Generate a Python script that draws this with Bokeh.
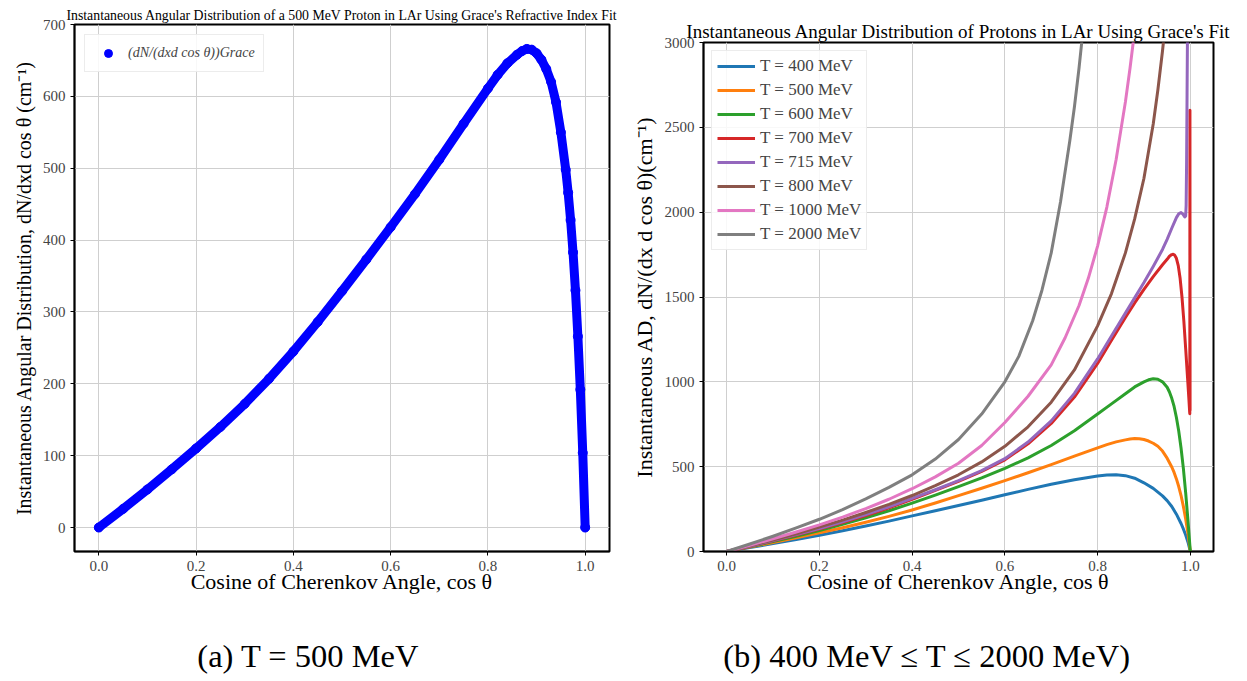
from bokeh.plotting import figure
from bokeh.models import Legend, LegendItem, FixedTicker, NumeralTickFormatter, Range1d, Label
from bokeh.layouts import row, column
from bokeh.embed import file_html
from bokeh.resources import INLINE

# ---------------- data ----------------
x_500 = [0, 0.05, 0.1, 0.15, 0.2, 0.25, 0.3, 0.35, 0.4, 0.45, 0.5, 0.55, 0.6, 0.65, 0.7,
         0.75, 0.8, 0.82, 0.84, 0.86, 0.87, 0.88, 0.89, 0.9, 0.91, 0.92, 0.93, 0.94,
         0.95, 0.96, 0.965, 0.97, 0.975, 0.98, 0.985, 0.99, 0.995, 1.0]
y_500 = [0, 26, 53, 81, 110, 140, 172, 207, 245, 286, 329, 373, 418, 464, 512,
         562, 611, 630, 646, 658, 663, 666, 665, 660, 651, 638, 620, 592,
         550, 498, 466, 428, 383, 330, 266, 192, 104, 0]

x_400 = [0, 0.05, 0.1, 0.15, 0.2, 0.25, 0.3, 0.35, 0.4, 0.45, 0.5, 0.55, 0.6, 0.65, 0.7,
         0.75, 0.8, 0.82, 0.84, 0.86, 0.88, 0.9, 0.92, 0.94, 0.95, 0.96, 0.97, 0.98,
         0.985, 0.99, 0.995, 1.0]
y_400 = [0, 23, 47, 71, 96, 122, 150, 179, 210, 240, 271, 302, 334, 366, 396,
         423, 445, 451, 452, 447, 432, 405, 372, 328, 300, 265, 220, 165,
         133, 97, 55, 0]

x_600 = [0, 0.05, 0.1, 0.15, 0.2, 0.25, 0.3, 0.35, 0.4, 0.45, 0.5, 0.55, 0.6, 0.65, 0.7,
         0.75, 0.8, 0.83, 0.86, 0.88, 0.9, 0.91, 0.92, 0.93, 0.94, 0.95, 0.955, 0.96,
         0.965, 0.97, 0.975, 0.98, 0.985, 0.99, 0.995, 1.0]
y_600 = [0, 28, 58, 90, 124, 160, 199, 240, 285, 332, 382, 434, 490, 552, 625,
         712, 810, 870, 930, 970, 1000, 1012, 1018, 1015, 1000, 968, 940, 903,
         855, 790, 710, 610, 490, 345, 180, 0]

x_700 = [0, 0.05, 0.1, 0.15, 0.2, 0.25, 0.3, 0.35, 0.4, 0.45, 0.5, 0.55, 0.6, 0.65, 0.7,
         0.75, 0.8, 0.83, 0.86, 0.88, 0.9, 0.92, 0.94, 0.95, 0.955, 0.96, 0.963, 0.966,
         0.97, 0.974, 0.978, 0.982, 0.986, 0.99, 0.994, 0.997, 0.9985, 0.9989, 0.9992,
         0.9995]
y_700 = [0, 30, 63, 97, 132, 170, 212, 258, 308, 360, 414, 472, 540, 635, 755,
         910, 1108, 1245, 1380, 1465, 1545, 1620, 1690, 1722, 1740, 1750, 1752, 1747,
         1728, 1685, 1610, 1500, 1360, 1195, 1025, 895, 825, 812, 2600, 830]

x_715 = [0, 0.05, 0.1, 0.15, 0.2, 0.25, 0.3, 0.35, 0.4, 0.45, 0.5, 0.55, 0.6, 0.65, 0.7,
         0.75, 0.8, 0.83, 0.86, 0.88, 0.9, 0.92, 0.94, 0.95, 0.96, 0.97, 0.975, 0.98,
         0.984, 0.988, 0.99, 0.991, 0.992, 0.993, 0.994]
y_715 = [0, 31, 65, 100, 136, 175, 217, 263, 313, 364, 418, 477, 547, 645, 770,
         932, 1135, 1270, 1405, 1495, 1585, 1680, 1780, 1840, 1905, 1968, 1990, 1998,
         1988, 1972, 1978, 2040, 2300, 2700, 3100]

x_800 = [0, 0.05, 0.1, 0.15, 0.2, 0.25, 0.3, 0.35, 0.4, 0.45, 0.5, 0.55, 0.6, 0.65, 0.7,
         0.75, 0.8, 0.83, 0.86, 0.88, 0.9, 0.92, 0.93, 0.94, 0.945]
y_800 = [0, 33, 68, 105, 144, 185, 230, 278, 330, 388, 452, 528, 620, 735, 880,
         1070, 1330, 1520, 1760, 1960, 2200, 2520, 2720, 2950, 3080]

x_1000 = [0, 0.05, 0.1, 0.15, 0.2, 0.25, 0.3, 0.35, 0.4, 0.45, 0.5, 0.55, 0.6, 0.65, 0.7,
          0.73, 0.76, 0.78, 0.8, 0.82, 0.84, 0.86, 0.87, 0.88, 0.885]
y_1000 = [0, 37, 75, 115, 157, 203, 253, 308, 370, 440, 520, 625, 760, 915, 1100,
          1260, 1450, 1610, 1800, 2030, 2310, 2650, 2850, 3070, 3180]

x_2000 = [0, 0.05, 0.1, 0.15, 0.2, 0.25, 0.3, 0.35, 0.4, 0.45, 0.5, 0.55, 0.6, 0.63, 0.66,
          0.68, 0.7, 0.72, 0.74, 0.75, 0.76, 0.765, 0.77]
y_2000 = [0, 44, 90, 139, 190, 247, 310, 378, 452, 545, 660, 810, 1000, 1150, 1360,
          1540, 1760, 2060, 2420, 2620, 2850, 2980, 3110]

energies = ["400", "500", "600", "700", "715", "800", "1000", "2000"]
series_x = [x_400, x_500, x_600, x_700, x_715, x_800, x_1000, x_2000]
series_y = [y_400, y_500, y_600, y_700, y_715, y_800, y_1000, y_2000]
colors = ["#1f77b4", "#ff7f0e", "#2ca02c", "#d62728", "#9467bd", "#8c564b", "#e377c2", "#7f7f7f"]

x_ticks = [0.0, 0.2, 0.4, 0.6, 0.8, 1.0]
y_ticks_a = [0, 100, 200, 300, 400, 500, 600, 700]
y_ticks_b = [0, 500, 1000, 1500, 2000, 2500, 3000]

caption_a = "(a) T = 500 MeV"
caption_b = "(b) 400 MeV ≤ T ≤ 2000 MeV)"

FONT = "Liberation Serif"
PLOT_H = 604
CAP_H = 681 - PLOT_H


def style(p, yticks):
    p.outline_line_color = "black"
    p.outline_line_width = 2
    for ax in (p.xaxis[0], p.yaxis[0]):
        ax.axis_line_color = "black"
        ax.axis_line_width = 1.5
        ax.major_tick_out = 4
        ax.major_tick_in = 0
        ax.major_tick_line_color = "black"
        ax.minor_tick_line_color = None
        ax.major_label_text_font = FONT
        ax.major_label_text_font_size = "15px"
        ax.major_label_text_color = "#444444"
        ax.axis_label_text_font = FONT
        ax.axis_label_text_font_style = "normal"
        ax.axis_label_text_font_size = "22px"
        ax.axis_label_text_color = "black"
    p.xaxis[0].axis_label_standoff = -5
    p.xaxis[0].ticker = FixedTicker(ticks=x_ticks)
    p.xaxis[0].formatter = NumeralTickFormatter(format="0.0")
    p.yaxis[0].ticker = FixedTicker(ticks=yticks)
    p.xgrid[0].ticker = FixedTicker(ticks=x_ticks)
    p.ygrid[0].ticker = FixedTicker(ticks=yticks)
    p.grid.grid_line_color = "#cfcfcf"
    p.grid.grid_line_width = 1
    p.xaxis.axis_label = "Cosine of Cherenkov Angle, cos θ"
    p.background_fill_color = "white"
    p.border_fill_color = "white"


def caption_fig(width, text, cx, bl, br):
    c = figure(width=width, height=CAP_H, output_backend="svg", toolbar_location=None,
               x_range=Range1d(0, width - bl - br), y_range=Range1d(0, CAP_H),
               min_border_left=bl, min_border_right=br, min_border_top=0, min_border_bottom=0)
    c.axis.visible = False
    c.grid.visible = False
    c.outline_line_color = None
    c.background_fill_color = "white"
    c.border_fill_color = "white"
    c.add_layout(Label(x=cx - bl, y=CAP_H - 51, text=text, text_align="center",
                       text_baseline="middle", text_font=FONT, text_font_size="32.5px",
                       text_color="black"))
    return c


# ---------------- panel (a) ----------------
p1 = figure(width=620, height=PLOT_H, output_backend="svg", toolbar_location=None,
            x_range=Range1d(-0.05, 1.05), y_range=Range1d(-33.35, 700),
            min_border_left=74, min_border_right=11, min_border_top=24, min_border_bottom=53)
p1.title.text = "Instantaneous Angular Distribution of a 500 MeV Proton in LAr Using Grace's Refractive Index Fit"
p1.title.text_font = FONT
p1.title.text_font_size = "13.8px"
p1.title.text_font_style = "normal"
p1.title.text_color = "black"
p1.title.align = "center"
p1.title.standoff = 4
style(p1, y_ticks_a)
p1.yaxis.axis_label = "Instantaneous Angular Distribution, dN/dxd cos θ (cm⁻¹)"
p1.yaxis.axis_label_text_font_size = "20px"
p1.line(x_500, y_500, line_width=9, color="#0000ff", line_cap="round", line_join="round")
sc = p1.scatter(x_500, y_500, size=9, color="#0000ff")
leg1 = Legend(items=[LegendItem(label="(dN/(dxd cos θ))Grace", renderers=[sc])],
              location="top_left", label_text_font=FONT, label_text_font_size="14px",
              label_text_font_style="italic",
              border_line_color="#d9d9d9", border_line_width=1, background_fill_alpha=0.85,
              margin=10, padding=8, glyph_width=30, spacing=0)
p1.add_layout(leg1)
c1 = caption_fig(620, caption_a, 308, 74, 11)

# ---------------- panel (b) ----------------
p2 = figure(width=627, height=PLOT_H, output_backend="svg", toolbar_location=None,
            x_range=Range1d(-0.05, 1.05), y_range=Range1d(0, 3000),
            min_border_left=83, min_border_right=34, min_border_top=42, min_border_bottom=53)
p2.title.text = "Instantaneous Angular Distribution of Protons in LAr Using Grace's Fit"
p2.title.text_font = FONT
p2.title.text_font_size = "19px"
p2.title.text_font_style = "normal"
p2.title.text_color = "black"
p2.title.align = "center"
p2.title.standoff = 2
style(p2, y_ticks_b)
p2.yaxis.axis_label = "Instantaneous AD, dN/(dx d cos θ)(cm⁻¹)"
items = []
for e, xs, ys, c in zip(energies, series_x, series_y, colors):
    r = p2.line(xs, ys, line_width=3, color=c, line_join="round")
    items.append(LegendItem(label=f"T = {e} MeV", renderers=[r]))
leg2 = Legend(items=items, location="top_left", label_text_font=FONT, label_text_font_size="17px",
              border_line_color="#d9d9d9", border_line_width=1, background_fill_alpha=0.85,
              margin=8, padding=5, glyph_width=38, glyph_height=20, label_height=20, spacing=4)
p2.add_layout(leg2)
c2 = caption_fig(627, caption_b, 927 - 620, 83, 34)

layout = row(column(p1, c1), column(p2, c2))
open("out.html", "w").write(file_html(layout, INLINE))
